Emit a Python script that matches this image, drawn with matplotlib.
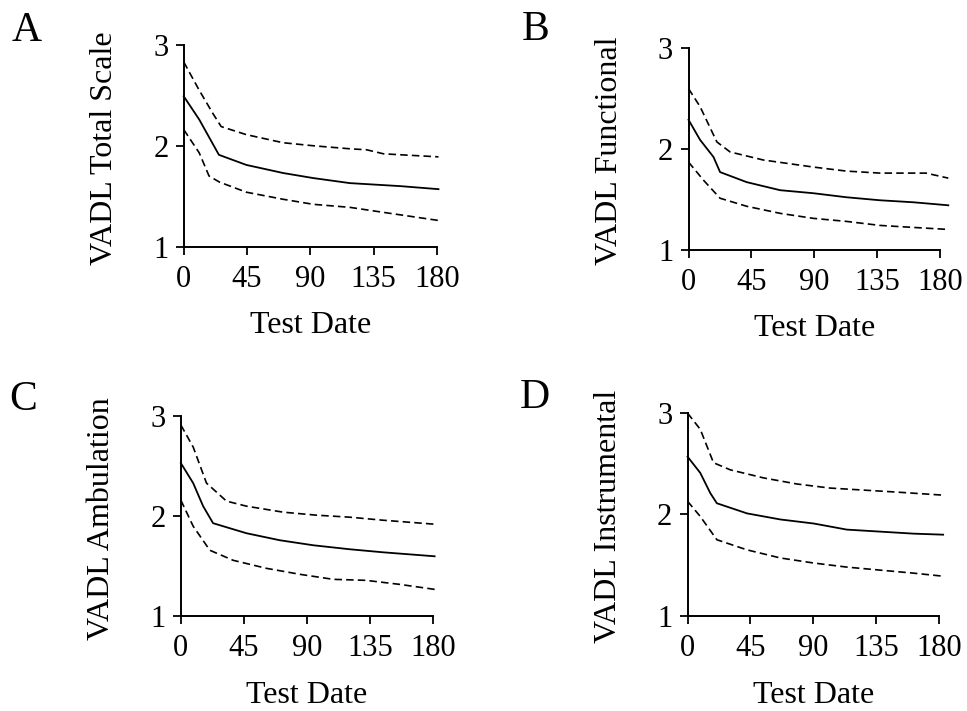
import matplotlib
matplotlib.use("Agg")
import matplotlib.pyplot as plt

plt.rcParams["font.family"] = ["Liberation Serif", "DejaVu Serif"]

# days since test date
days_a_mean = [0, 11, 25, 44.5, 70.6, 92, 118, 154, 181]
a_mean = [2.49, 2.26, 1.91, 1.81, 1.73, 1.68, 1.63, 1.60, 1.57]
days_a_up = [0, 11, 20.7, 26.6, 44.5, 70.6, 92, 118, 130, 142, 181]
a_up = [2.83, 2.55, 2.32, 2.19, 2.11, 2.03, 2.00, 1.97, 1.96, 1.92, 1.89]
days_a_lo = [0, 11, 18, 25.4, 44.5, 70.6, 92, 118, 142, 181]
a_lo = [2.16, 1.93, 1.70, 1.64, 1.54, 1.47, 1.42, 1.39, 1.34, 1.26]

days_b_mean = [0, 8.3, 17.9, 22.6, 41.7, 65.6, 89.4, 113, 137, 161, 186]
b_mean = [2.29, 2.09, 1.92, 1.77, 1.67, 1.59, 1.56, 1.52, 1.49, 1.47, 1.44]
days_b_up = [0, 8.3, 20.3, 29.8, 53.6, 89.4, 113, 137, 170, 186]
b_up = [2.60, 2.42, 2.07, 1.97, 1.89, 1.82, 1.78, 1.76, 1.76, 1.71]
days_b_lo = [0, 10.7, 22.6, 41.7, 65.6, 89.4, 113, 137, 161, 186]
b_lo = [1.87, 1.69, 1.51, 1.43, 1.36, 1.31, 1.28, 1.24, 1.22, 1.20]

days_c_mean = [0, 8.8, 15.9, 23, 46.8, 70.6, 94.4, 120.5, 144, 181]
c_mean = [2.53, 2.33, 2.10, 1.93, 1.83, 1.76, 1.71, 1.67, 1.64, 1.60]
days_c_up = [0, 8.8, 18.3, 32.6, 46.8, 73, 96.8, 120.5, 144, 181]
c_up = [2.91, 2.69, 2.33, 2.15, 2.10, 2.04, 2.01, 1.99, 1.96, 1.92]
days_c_lo = [0, 8.8, 20.7, 37.3, 61, 85, 108.7, 132, 156, 181]
c_lo = [2.16, 1.90, 1.66, 1.56, 1.48, 1.42, 1.37, 1.36, 1.32, 1.27]

days_d_mean = [0, 9.1, 16.3, 21, 42.6, 66.5, 90.4, 114, 138, 162, 183]
d_mean = [2.57, 2.41, 2.21, 2.11, 2.01, 1.95, 1.91, 1.85, 1.83, 1.81, 1.80]
days_d_up = [0, 9.1, 18.6, 30.6, 54.5, 78.4, 102, 126, 150, 183]
d_up = [3.00, 2.84, 2.51, 2.44, 2.36, 2.30, 2.26, 2.24, 2.22, 2.19]
days_d_lo = [0, 9.1, 21, 42.6, 66.5, 90.4, 114, 138, 162, 183]
d_lo = [2.13, 1.98, 1.75, 1.65, 1.57, 1.52, 1.48, 1.45, 1.42, 1.39]

panel_letters = ["A", "B", "C", "D"]
ylabels = ["VADL Total Scale", "VADL Functional", "VADL Ambulation", "VADL Instrumental"]
xticks = [0, 45, 90, 135, 180]
yticks = [1, 2, 3]

panels = [
    (days_a_mean, a_mean, days_a_up, a_up, days_a_lo, a_lo),
    (days_b_mean, b_mean, days_b_up, b_up, days_b_lo, b_lo),
    (days_c_mean, c_mean, days_c_up, c_up, days_c_lo, c_lo),
    (days_d_mean, d_mean, days_d_up, d_up, days_d_lo, d_lo),
]

boxes = [
    [0.190, 0.653, 0.262, 0.284],
    [0.712, 0.649, 0.260, 0.283],
    [0.187, 0.133, 0.261, 0.282],
    [0.711, 0.134, 0.260, 0.285],
]
letter_pos = [(0.012, 0.942), (0.540, 0.944), (0.010, 0.423), (0.538, 0.426)]

fig = plt.figure(figsize=(9.67, 7.11), dpi=100)

for i, (box, data) in enumerate(zip(boxes, panels)):
    ax = fig.add_axes(box)
    xm, ym, xu, yu, xl, yl = data
    ax.plot(xm, ym, color="black", lw=1.3, clip_on=False)
    ax.plot(xu, yu, color="black", lw=1.2, ls=(0, (4.5, 2.5)), clip_on=False)
    ax.plot(xl, yl, color="black", lw=1.2, ls=(0, (4.5, 2.5)), clip_on=False)

    ax.set_xlim(0, 180)
    ax.set_ylim(1, 3)
    ax.set_xticks(xticks)
    ax.set_yticks(yticks)
    for side in ["top", "right"]:
        ax.spines[side].set_visible(False)
    for side in ["left", "bottom"]:
        ax.spines[side].set_linewidth(1.4)
    ax.tick_params(direction="out", length=6, width=1.3, labelsize=22)
    ax.tick_params(axis="x", pad=7)
    ax.tick_params(axis="y", pad=5)

    ax.set_ylabel(ylabels[i], fontsize=23)
    ax.yaxis.set_label_coords(-0.255, 0.49)
    ax.set_xlabel("Test Date", fontsize=23)
    ax.xaxis.set_label_coords(0.5, -0.32)

    fig.text(letter_pos[i][0], letter_pos[i][1], panel_letters[i],
             fontsize=30, va="baseline", ha="left")

fig.savefig("out.png", dpi=100)
